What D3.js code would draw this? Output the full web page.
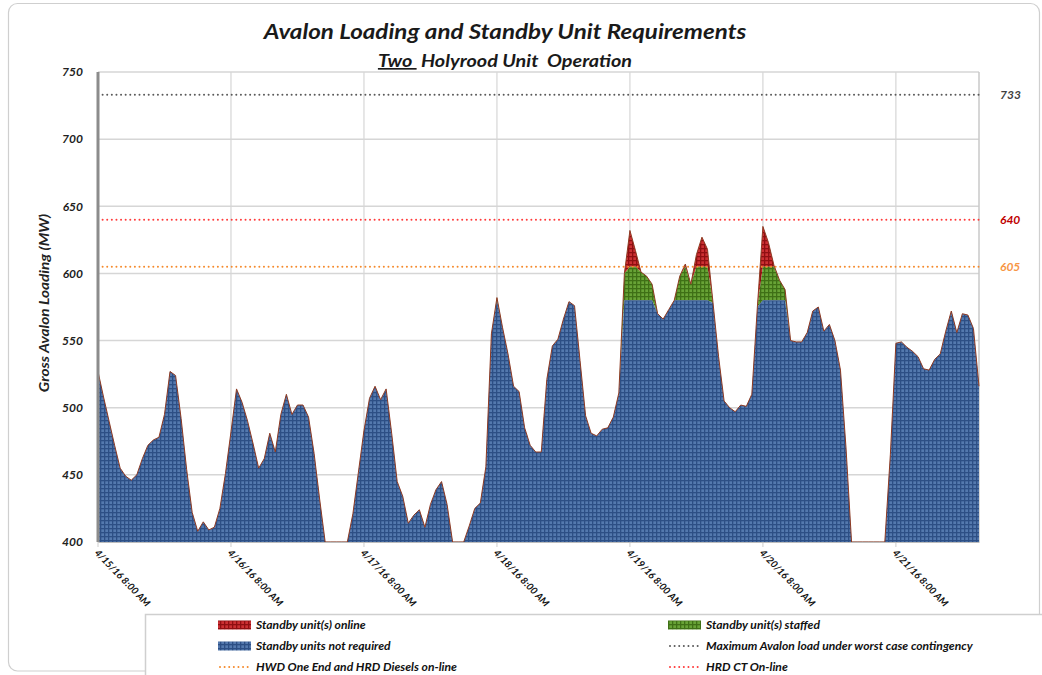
<!DOCTYPE html>
<html>
<head>
<meta charset="utf-8">
<script src="https://cdn.jsdelivr.net/npm/d3@7/dist/d3.min.js"></script>
<style>
  html, body { margin: 0; padding: 0; background: #fff; }
  svg text { font-family: Lato, "Open Sans", "Liberation Sans", sans-serif; }
</style>
</head>
<body>
<svg id="chart" width="1042" height="675"></svg>
<script>
// ---------------- DATA ----------------
const startTime = "2016-04-15T08:00:00";   // first hourly reading
// Gross Avalon loading (MW), hourly; values below 400 lie under the axis floor
const load = [
  527, 508, 490, 472, 455, 449, 446, 450, 462, 472, 476, 478, 495, 527, 524, 492,
  454, 422, 408, 415, 409, 411, 425, 451, 482, 514, 504, 490, 473, 455, 462, 481,
  467, 495, 510, 495, 502, 502, 493, 466, 432,   0,   0,   0,   0,   0, 421, 452,
  483, 507, 516, 506, 514, 481, 445, 434, 414, 420, 424, 411, 428, 439, 445, 428,
    0,   0,   0, 412, 425, 429, 456, 555, 582, 560, 540, 516, 512, 485, 472, 467,
  467, 521, 546, 551, 566, 579, 576, 535, 494, 481, 479, 484, 485, 493, 511, 600,
  632, 617, 601, 598, 592, 570, 566, 573, 580, 598, 607, 592, 614, 627, 618, 578,
  538, 505, 500, 497, 502, 501, 510, 575, 635, 623, 606, 595, 588, 550, 549, 549,
  556, 572, 575, 557, 562, 550, 528, 470,   0,   0,   0,   0,   0,   0,   0, 465,
  548, 549, 545, 542, 538, 529, 528, 536, 540, 557, 572, 556, 570, 569, 559, 516
];
const notRequiredCap = 580;   // top of "Standby units not required"
const staffedCap = 605;       // top of "Standby unit(s) staffed"
const refLines = [
  { name: "Maximum Avalon load under worst case contingency", value: 733, color: "#5a5a5a", label: "733", labelColor: "#404040" },
  { name: "HRD CT On-line", value: 640, color: "#ff3b3b", label: "640", labelColor: "#c00000" },
  { name: "HWD One End and HRD Diesels on-line", value: 605, color: "#f58a2c", label: "605", labelColor: "#f79646" }
];
const yTicks = [400, 450, 500, 550, 600, 650, 700, 750];
const xTickDates = ["2016-04-15T08:00:00", "2016-04-16T08:00:00", "2016-04-17T08:00:00",
  "2016-04-18T08:00:00", "2016-04-19T08:00:00", "2016-04-20T08:00:00", "2016-04-21T08:00:00"];
const xTickLabels = ["4/15/16 8:00 AM", "4/16/16 8:00 AM", "4/17/16 8:00 AM", "4/18/16 8:00 AM",
  "4/19/16 8:00 AM", "4/20/16 8:00 AM", "4/21/16 8:00 AM"];
const legendItems = [
  { text: "Standby unit(s) online", kind: "fill", key: "red", col: 0, row: 0 },
  { text: "Standby unit(s) staffed", kind: "fill", key: "green", col: 1, row: 0 },
  { text: "Standby units not required", kind: "fill", key: "blue", col: 0, row: 1 },
  { text: "Maximum Avalon load under worst case contingency", kind: "dot", color: "#5a5a5a", col: 1, row: 1 },
  { text: "HWD One End and HRD Diesels on-line", kind: "dot", color: "#f58a2c", col: 0, row: 2 },
  { text: "HRD CT On-line", kind: "dot", color: "#ff3b3b", col: 1, row: 2 }
];

// ---------------- LAYOUT ----------------
const svg = d3.select("#chart");
const M = { left: 98, right: 979, top: 72, bottom: 542 };
const parse = d3.isoParse;
const t0 = parse(startTime);
const rows = load.map((v, i) => ({
  t: new Date(t0.getTime() + i * 3600 * 1000),
  blue: Math.min(v, notRequiredCap),
  green: Math.min(v, staffedCap),
  red: v
}));

function stretch(sel, k) {
  sel.each(function () {
    const L = this.getComputedTextLength();
    d3.select(this).attr("textLength", L * k).attr("lengthAdjust", "spacingAndGlyphs");
  });
}

const x = d3.scaleTime()
  .domain([rows[0].t, rows[rows.length - 1].t])
  .range([M.left, M.right]);
const y = d3.scaleLinear().domain([400, 750]).range([M.bottom, M.top]).clamp(true);

// background + outer frame
svg.append("rect").attr("width", 1042).attr("height", 675).attr("fill", "#fff");
svg.append("rect").attr("x", 8.5).attr("y", 3.5).attr("width", 1031).attr("height", 667.5)
  .attr("rx", 9).attr("fill", "none").attr("stroke", "#cfcfcf").attr("stroke-width", 1.2);

// patterns
const defs = svg.append("defs");
const pats = {
  blue: { bg: "#5479ae", line: "#2d4f85" },
  green: { bg: "#68a336", line: "#3f7016" },
  red: { bg: "#cc3033", line: "#8f0f12" }
};
Object.entries(pats).forEach(([k, p]) => {
  const pat = defs.append("pattern").attr("id", "pat-" + k)
    .attr("patternUnits", "userSpaceOnUse").attr("width", 4).attr("height", 4);
  pat.append("rect").attr("width", 4).attr("height", 4).attr("fill", p.bg);
  pat.append("rect").attr("width", 4).attr("height", 1.3).attr("fill", p.line);
  pat.append("rect").attr("width", 1.3).attr("height", 4).attr("fill", p.line);
});

// gridlines
const g = svg.append("g");
g.selectAll(".hg").data(yTicks).join("line")
  .attr("x1", M.left).attr("x2", M.right)
  .attr("y1", d => y(d)).attr("y2", d => y(d))
  .attr("stroke", "#d6d6d6").attr("stroke-width", 1.5);
g.selectAll(".vg").data(xTickDates).join("line")
  .attr("x1", d => x(parse(d))).attr("x2", d => x(parse(d)))
  .attr("y1", M.top).attr("y2", M.bottom + 5)
  .attr("stroke", "#d6d6d6").attr("stroke-width", 1.2);
g.append("line").attr("x1", M.right).attr("x2", M.right).attr("y1", M.top).attr("y2", M.bottom)
  .attr("stroke", "#c8c8c8").attr("stroke-width", 1.5);

// areas
const layers = [
  { key: "red", lo: "green", hi: "red" },
  { key: "green", lo: "blue", hi: "green" },
  { key: "blue", lo: null, hi: "blue" }
];
layers.forEach(L => {
  const area = d3.area()
    .x(d => x(d.t))
    .y0(d => L.lo ? y(d[L.lo]) : y(400))
    .y1(d => y(d[L.hi]));
  svg.append("path").datum(rows).attr("d", area).attr("fill", `url(#pat-${L.key})`);
});
// top edge
svg.append("path").datum(rows)
  .attr("d", d3.line().x(d => x(d.t)).y(d => y(d.red)))
  .attr("fill", "none").attr("stroke", "#8e3a22").attr("stroke-width", 1);

// reference dotted lines
refLines.forEach(r => {
  svg.append("line").attr("x1", M.left).attr("x2", M.right)
    .attr("y1", y(r.value)).attr("y2", y(r.value))
    .attr("stroke", r.color).attr("stroke-width", 2)
    .attr("stroke-dasharray", "0.01,4.6").attr("stroke-linecap", "round");
  svg.append("text").attr("x", 1000).attr("y", y(r.value)).attr("dy", "0.35em")
    .attr("font-size", 12).attr("font-style", "italic").attr("font-weight", 700)
    .attr("fill", r.labelColor).text(r.label);
});

// y axis
const yAxis = d3.axisLeft(y).tickValues(yTicks).tickSize(0).tickPadding(15);
const ya = svg.append("g").attr("transform", `translate(${M.left},0)`).call(yAxis);
ya.select(".domain").remove();
ya.selectAll("text").attr("font-size", 12).attr("font-weight", 700).attr("font-style", "italic")
  .attr("fill", "#222").attr("font-family", "Lato, sans-serif");
svg.append("line").attr("x1", M.left).attr("x2", M.left).attr("y1", M.top).attr("y2", M.bottom)
  .attr("stroke", "#8c8c8c").attr("stroke-width", 3);

// x axis
const xAxis = d3.axisBottom(x).tickValues(xTickDates.map(parse)).tickSize(0)
  .tickFormat((d, i) => xTickLabels[i]);
const xa = svg.append("g").attr("transform", `translate(0,${M.bottom})`).call(xAxis);
xa.select(".domain").attr("stroke", "#bdbdbd").attr("stroke-width", 1.2);
xa.selectAll("text")
  .attr("font-size", 9.8).attr("font-weight", 700).attr("font-style", "italic")
  .attr("fill", "#111").attr("font-family", "Lato, sans-serif")
  .attr("text-anchor", "start")
  .attr("transform", "translate(-2,9) rotate(46)")
  .attr("x", 0).attr("y", 0).attr("dy", "0.35em");

// y title
const yt = svg.append("text").attr("transform", "translate(49,303) rotate(-90)")
  .attr("text-anchor", "middle").attr("font-size", 13.5).attr("font-weight", 700)
  .attr("font-style", "italic").attr("fill", "#222").text("Gross Avalon Loading (MW)");
stretch(yt, 1.14);

// titles
const tt = svg.append("text").attr("x", 505).attr("y", 39).attr("text-anchor", "middle")
  .attr("font-size", 21).attr("font-weight", 700).attr("font-style", "italic")
  .attr("fill", "#1a1a1a").text("Avalon Loading and Standby Unit Requirements");
stretch(tt, 1.15);
const sub = svg.append("text").attr("x", 505).attr("y", 67).attr("text-anchor", "middle")
  .attr("font-size", 16.5).attr("font-weight", 700).attr("font-style", "italic")
  .attr("fill", "#1a1a1a").attr("xml:space", "preserve");
sub.append("tspan").attr("text-decoration", "underline").text("Two ");
sub.append("tspan").text(" Holyrood Unit  Operation");
stretch(sub, 1.2);

// legend
svg.append("rect").attr("x", 145.5).attr("y", 614.5).attr("width", 920).attr("height", 80)
  .attr("fill", "#fff").attr("stroke", "#cfcfcf").attr("stroke-width", 1.5);
const colX = [218, 668];
const rowY = [625, 646, 667];
legendItems.forEach(it => {
  const lx = colX[it.col], ly = rowY[it.row];
  if (it.kind === "fill") {
    svg.append("rect").attr("x", lx).attr("y", ly - 4.5).attr("width", 33).attr("height", 9)
      .attr("fill", `url(#pat-${it.key})`);
  } else {
    svg.append("line").attr("x1", lx + 2).attr("x2", lx + 33).attr("y1", ly).attr("y2", ly)
      .attr("stroke", it.color).attr("stroke-width", 2)
      .attr("stroke-dasharray", "0.01,4.6").attr("stroke-linecap", "round");
  }
  const lt = svg.append("text").attr("x", lx + 38).attr("y", ly).attr("dy", "0.35em")
    .attr("font-size", 11).attr("font-weight", 700).attr("font-style", "italic")
    .attr("fill", "#111").text(it.text);
  stretch(lt, 1.1);
});
</script>
</body>
</html>
